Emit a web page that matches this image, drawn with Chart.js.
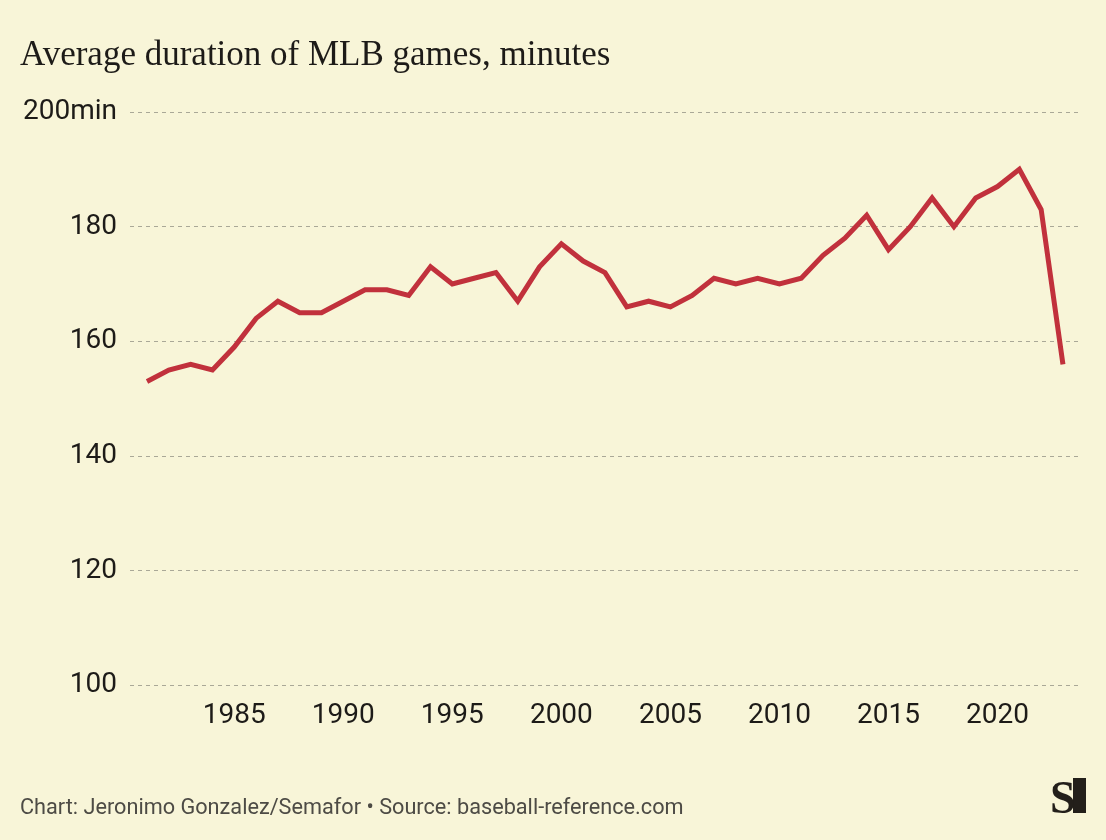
<!DOCTYPE html>
<html>
<head>
<meta charset="utf-8">
<script src="https://cdn.jsdelivr.net/npm/chart.js@4/dist/chart.umd.min.js"></script>
<style>
  html, body { margin: 0; padding: 0; background: #f8f5d8; }
  #wrap { width: 1106px; height: 840px; position: relative; }
</style>
</head>
<body>
<div id="wrap"><canvas id="c" width="1106" height="840"></canvas></div>
<script>
const years = [1981,1982,1983,1984,1985,1986,1987,1988,1989,1990,1991,1992,1993,1994,1995,1996,1997,1998,1999,2000,2001,2002,2003,2004,2005,2006,2007,2008,2009,2010,2011,2012,2013,2014,2015,2016,2017,2018,2019,2020,2021,2022,2023];
const minutes = [153,155,156,155,159,164,167,165,165,167,169,169,168,173,170,171,172,167,173,177,174,172,166,167,166,168,171,170,171,170,171,175,178,182,176,180,185,180,185,187,190,183,156];
const xTickYears = [1985,1990,1995,2000,2005,2010,2015,2020];
const yTicks = [100,120,140,160,180,200];
const titleText = 'Average duration of MLB games, minutes';
const footerText = 'Chart: Jeronimo Gonzalez/Semafor \u2022 Source: baseball-reference.com';

const logoPlugin = {
  id: 'logo',
  afterDraw(chart) {
    const ctx = chart.ctx;
    ctx.save();
    ctx.fillStyle = '#231f1a';
    ctx.fillRect(1073, 778, 13, 35);
    ctx.font = 'bold 46px "Liberation Serif"';
    ctx.textAlign = 'left';
    ctx.textBaseline = 'alphabetic';
    ctx.fillText('S', 1050, 813);
    ctx.restore();
  }
};
const bgPlugin = {
  id: 'bg',
  beforeDraw(chart) {
    const ctx = chart.ctx;
    ctx.save();
    ctx.fillStyle = '#f8f5d8';
    ctx.fillRect(0, 0, chart.width, chart.height);
    ctx.restore();
  }
};

new Chart(document.getElementById('c'), {
  type: 'line',
  data: {
    datasets: [{
      data: years.map((y, i) => ({x: y, y: minutes[i]})),
      borderColor: '#c1313c',
      borderWidth: 5,
      pointRadius: 0,
      tension: 0,
      borderJoinStyle: 'miter',
      borderCapStyle: 'butt'
    }]
  },
  options: {
    responsive: false,
    animation: false,
    layout: { padding: { left: 20, right: 28, top: 0, bottom: 0 } },
    plugins: {
      legend: { display: false },
      tooltip: { enabled: false },
      title: {
        display: true,
        text: titleText,
        align: 'start',
        color: '#1d1b18',
        font: { family: '"Liberation Serif", serif', size: 35, weight: 'normal' },
        padding: { top: 35, bottom: 35 }
      },
      subtitle: {
        display: true,
        position: 'bottom',
        text: footerText,
        align: 'start',
        color: '#4d4b45',
        font: { family: 'Roboto', size: 21.7, weight: 'normal' },
        padding: { top: 49, bottom: 18 }
      }
    },
    scales: {
      x: {
        type: 'linear',
        min: 1980.22,
        max: 2023.69,
        afterBuildTicks(scale) { scale.ticks = xTickYears.map(v => ({value: v})); },
        grid: { display: false, drawTicks: false },
        border: { display: false },
        ticks: {
          color: '#1d1b18',
          font: { family: 'Roboto', size: 28 },
          padding: 14,
          maxRotation: 0,
          autoSkip: false,
          callback: v => String(v)
        }
      },
      y: {
        min: 100,
        max: 200,
        afterBuildTicks(scale) { scale.ticks = yTicks.map(v => ({value: v})); },
        afterFit(scale) { scale.width = 110; },
        grid: { color: '#aaa897', lineWidth: 1, drawTicks: false },
        border: { display: false, dash: [4, 4] },
        ticks: {
          color: '#1d1b18',
          font: { family: 'Roboto', size: 28 },
          padding: 13,
          callback: v => v === 200 ? '200min' : String(v)
        }
      }
    }
  },
  plugins: [bgPlugin, logoPlugin]
});
</script>
</body>
</html>
